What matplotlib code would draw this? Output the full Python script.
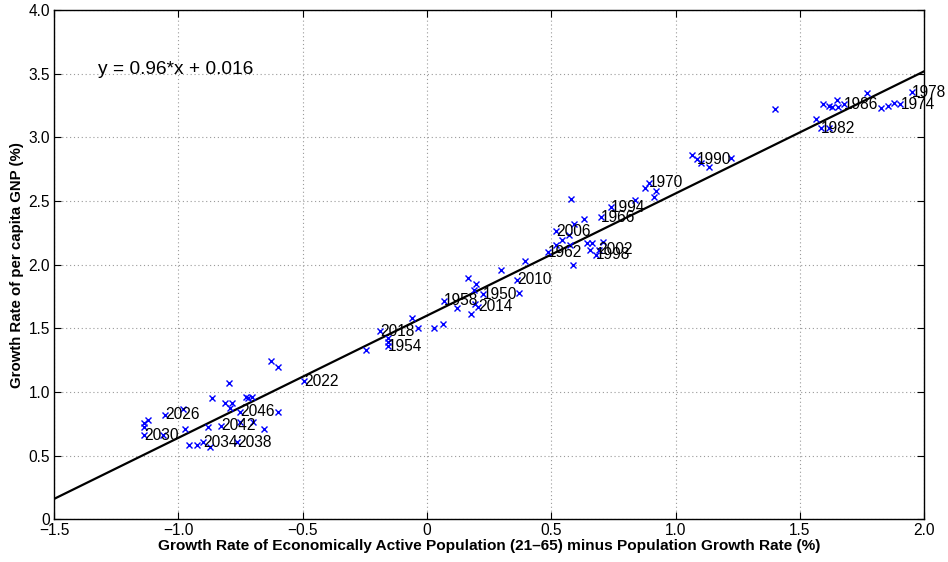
import numpy as np
import matplotlib
matplotlib.use("Agg")
import matplotlib.pyplot as plt

plt.rcParams.update({"font.family": ["Liberation Sans", "DejaVu Sans"], "font.size": 11})

# excess growth of working-age population vs per capita GNP growth, 1950-2046
x_gap = [-0.627, -0.600, -0.797, -0.493, -0.865, -0.814, -0.784, -0.791, -0.727, -0.718,
         -0.704, -0.982, -1.053, -1.122, -1.137, -1.138, -1.138, -1.061, -0.972, -0.881,
         -0.829, -0.752, -0.753, -0.700, -0.657, -0.598, -0.959, -0.924, -0.900, -0.872,
         -0.765,
         -0.246, -0.190, -0.158, -0.158, -0.158, -0.061, -0.037, 0.027, 0.063, 0.069,
         0.120, 0.163, 0.197, 0.190, 0.177, 0.193, 0.205, 0.225, 0.297, 0.361, 0.369, 0.396,
         0.488, 0.518, 0.518, 0.541, 0.571, 0.576, 0.581, 0.588, 0.592, 0.632, 0.645,
         0.665, 0.656, 0.680, 0.690, 0.709, 0.698, 0.739, 0.837, 0.876, 0.894, 0.920, 0.912,
         1.064, 1.087, 1.103, 1.133, 1.221,
         1.398, 1.566, 1.586, 1.616, 1.593, 1.616, 1.629, 1.649, 1.653, 1.676, 1.770,
         1.826, 1.853, 1.877, 1.904, 1.951]
y_gnp = [1.244, 1.196, 1.073, 1.086, 0.950, 0.916, 0.916, 0.877, 0.961, 0.950,
         0.961, 0.869, 0.822, 0.780, 0.754, 0.725, 0.661, 0.660, 0.711, 0.727,
         0.733, 0.845, 0.764, 0.767, 0.707, 0.844, 0.580, 0.587, 0.607, 0.568,
         0.607,
         1.328, 1.479, 1.427, 1.390, 1.361, 1.584, 1.500, 1.505, 1.534, 1.716,
         1.662, 1.898, 1.848, 1.801, 1.615, 1.694, 1.670, 1.768, 1.957, 1.880, 1.780, 2.029,
         2.097, 2.262, 2.158, 2.194, 2.233, 2.155, 2.516, 1.996, 2.317, 2.357, 2.168,
         2.168, 2.119, 2.079, 2.117, 2.181, 2.371, 2.451, 2.508, 2.605, 2.644, 2.580, 2.534,
         2.859, 2.828, 2.801, 2.770, 2.836,
         3.225, 3.145, 3.071, 3.076, 3.265, 3.244, 3.241, 3.294, 3.239, 3.260, 3.346,
         3.231, 3.247, 3.273, 3.260, 3.354]
year_tags = ["", "", "", "2022", "", "", "", "", "", "",
             "", "", "2026", "", "", "", "2030", "", "", "",
             "2042", "2046", "", "", "", "", "", "", "2034", "",
             "2038",
             "", "2018", "", "", "1954", "", "", "", "", "1958",
             "", "", "", "", "", "", "2014", "1950", "", "2010", "", "",
             "1962", "2006", "", "", "", "", "", "", "", "", "",
             "", "", "1998", "2002", "", "1966", "1994", "", "", "1970", "", "",
             "", "1990", "", "", "",
             "", "", "1982", "", "", "", "", "", "", "1986", "",
             "", "", "", "1974", "1978"]

# least-squares line (intercept in %, label shows it as a fraction)
slope = 0.96
intercept = 1.6
x_fit = np.array([-1.5, 2.0])

fig = plt.figure(figsize=(9.48, 5.62), dpi=100)
ax = fig.add_axes([0.057, 0.076, 0.918, 0.906])

ax.plot(x_gap, y_gnp, "x", color="#0000ff", ms=4, mew=1.0, zorder=3)
ax.plot(x_fit, slope * x_fit + intercept, "-", color="black", lw=1.6, zorder=2)
for xx, yy, t in zip(x_gap, y_gnp, year_tags):
    if t:
        ax.text(xx, yy, t, ha="left", va="center", fontsize=11.2, zorder=4)
ax.text(-1.325, 3.537, "y = %.2f*x + %.3f" % (slope, intercept / 100),
        ha="left", va="center", fontsize=13.8)

ax.set_xlim(-1.5, 2.0)
ax.set_ylim(0, 4.0)
ax.set_xticks(np.arange(-1.5, 2.01, 0.5))
ax.set_yticks(np.arange(0, 4.01, 0.5))
ax.set_xticklabels(["\u22121.5", "\u22121.0", "\u22120.5", "0", "0.5", "1.0", "1.5", "2.0"])
ax.set_yticklabels(["0", "0.5", "1.0", "1.5", "2.0", "2.5", "3.0", "3.5", "4.0"])
ax.tick_params(direction="in", top=True, right=True, length=5, width=0.8, labelsize=11.2, pad=3)
ax.grid(True, color="#9a9a9a", linestyle=(0, (1, 2.5)), linewidth=0.8)
for s in ax.spines.values():
    s.set_linewidth(1.0)

ax.set_xlabel("Growth Rate of Economically Active Population (21\u201365) minus Population Growth Rate (%)",
              fontweight="bold", fontsize=11.1, labelpad=0.5)
ax.set_ylabel("Growth Rate of per capita GNP (%)", fontweight="bold", fontsize=10.8, labelpad=3)

fig.savefig("out.png", dpi=100, facecolor="white")
